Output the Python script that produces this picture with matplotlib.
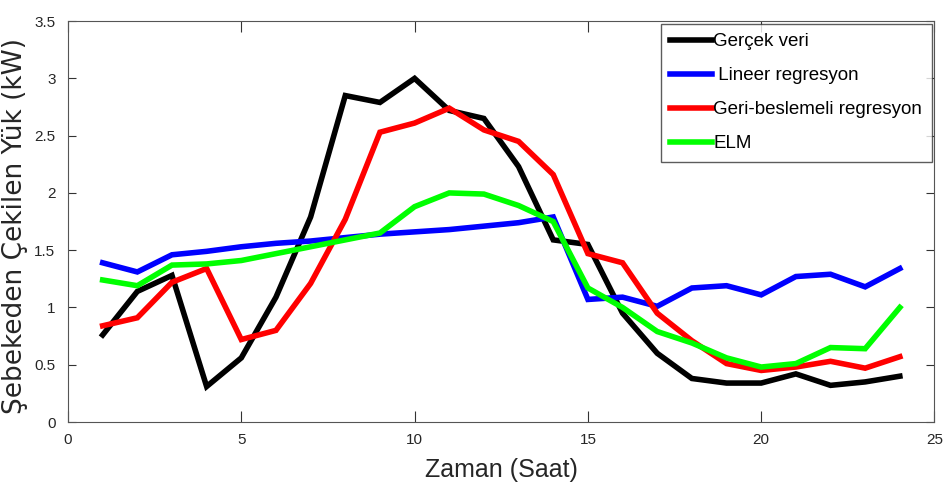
import numpy as np
import matplotlib.pyplot as plt

# Saat (1..24) ve modellere ait yük değerleri (kW)
hours = np.arange(1, 25)
gercek = [0.76, 1.14, 1.28, 0.31, 0.56, 1.09, 1.79, 2.85, 2.79, 3.00, 2.72, 2.65,
          2.23, 1.59, 1.55, 0.95, 0.60, 0.38, 0.34, 0.34, 0.42, 0.32, 0.35, 0.40]
lineer = [1.39, 1.31, 1.46, 1.49, 1.53, 1.56, 1.58, 1.61, 1.64, 1.66, 1.68, 1.71,
          1.74, 1.79, 1.07, 1.09, 1.01, 1.17, 1.19, 1.11, 1.27, 1.29, 1.18, 1.34]
geri = [0.84, 0.91, 1.22, 1.34, 0.72, 0.80, 1.21, 1.77, 2.53, 2.61, 2.74, 2.55,
        2.45, 2.16, 1.47, 1.39, 0.95, 0.71, 0.51, 0.45, 0.48, 0.53, 0.47, 0.57]
elm = [1.24, 1.19, 1.37, 1.38, 1.41, 1.47, 1.53, 1.59, 1.65, 1.88, 2.00, 1.99,
       1.89, 1.75, 1.17, 1.00, 0.79, 0.69, 0.56, 0.48, 0.51, 0.65, 0.64, 1.00]

labels = ['Gerçek veri', ' Lineer regresyon', 'Geri-beslemeli regresyon', 'ELM']
colors = ['#000000', '#0000ff', '#ff0000', '#00ff00']

plt.rcParams['font.family'] = ['Liberation Sans', 'DejaVu Sans']

fig = plt.figure(figsize=(9.47, 4.98), dpi=100)
ax = fig.add_axes([0.0718, 0.1526, 0.915, 0.805])

for y, lab, c in zip([gercek, lineer, geri, elm], labels, colors):
    ax.plot(hours, y, color=c, lw=4, label=lab, solid_joinstyle='miter')

ax.set_xlim(0, 25)
ax.set_ylim(0, 3.5)
ax.set_xticks([0, 5, 10, 15, 20, 25])
ax.set_yticks([0, 0.5, 1, 1.5, 2, 2.5, 3, 3.5])
ax.set_yticklabels(['0', '0.5', '1', '1.5', '2', '2.5', '3', '3.5'])
ax.tick_params(direction='in', top=True, right=True, labelsize=11,
               colors='#333333', labelcolor='#262626')
ax.tick_params(axis='x', length=8, pad=8)
ax.tick_params(axis='y', length=6, pad=9)
for s in ax.spines.values():
    s.set_color('#555555')

ax.set_xlabel('Zaman (Saat)', fontsize=18, color='#262626', labelpad=8)
ax.set_ylabel('Şebekeden Çekilen Yük (kW)', fontsize=19,
              family=['DejaVu Sans'], color='#262626')
ax.yaxis.set_label_coords(-0.046, 0.49)

leg = ax.legend(loc='upper right', fontsize=13.5, handlelength=2.2, handletextpad=0.1,
                frameon=True, fancybox=False, edgecolor='#333333', borderpad=0.5,
                labelspacing=0.9, borderaxespad=0.15)
leg.get_frame().set_linewidth(1.0)

plt.savefig('out.png', dpi=100)
